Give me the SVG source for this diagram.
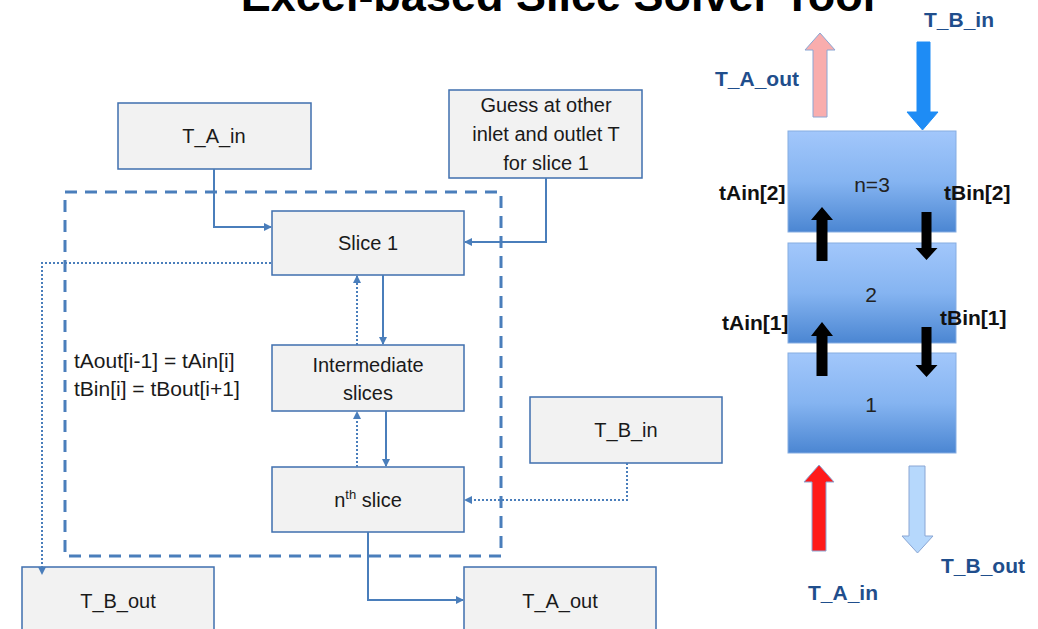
<svg xmlns="http://www.w3.org/2000/svg" width="1038" height="629" viewBox="0 0 1038 629">
<defs>
<style>
.box{fill:#f2f2f2;stroke:#3f6fae;stroke-width:1.5}
.t{font-family:"Liberation Sans",Arial,sans-serif;font-size:20px;fill:#1a1a1a;text-anchor:middle}
.eq{font-family:"Liberation Sans",Arial,sans-serif;font-size:21px;fill:#1a1a1a}
.lb{font-family:"Liberation Sans",Arial,sans-serif;font-size:21px;font-weight:bold;fill:#1f4e8c}
.bk{font-family:"Liberation Sans",Arial,sans-serif;font-size:21px;font-weight:bold;fill:#111}
.num{font-family:"Liberation Sans",Arial,sans-serif;font-size:21px;fill:#222;text-anchor:middle}
.sl{stroke:#4a7ebb;stroke-width:2;fill:none}
.dt{stroke:#4a7ebb;stroke-width:2;fill:none;stroke-dasharray:2 2}
.slice{fill:url(#g);stroke:#86ade2;stroke-width:1}
</style>
<linearGradient id="g" x1="0" y1="0" x2="0" y2="1">
<stop offset="0" stop-color="#a2c7fb"/>
<stop offset="0.5" stop-color="#85b4f1"/>
<stop offset="1" stop-color="#4b86d2"/>
</linearGradient>
<marker id="ah" markerWidth="8" markerHeight="8" refX="7" refY="4" orient="auto" markerUnits="userSpaceOnUse">
<path d="M0,0 L8,4 L0,8 Z" fill="#4a7ebb"/>
</marker>
</defs>
<rect width="1038" height="629" fill="#fff"/>
<text x="558" y="11" style="font-family:'Liberation Sans',Arial,sans-serif;font-size:45px;font-weight:bold;fill:#000" text-anchor="middle">Excel-based Slice Solver Tool</text>

<rect x="65" y="192" width="436" height="364" fill="none" stroke="#4a7ebb" stroke-width="3" stroke-dasharray="12 8"/>

<g id="n_tain"><rect class="box" x="118" y="103" width="193" height="66"/><text class="t" x="214" y="143">T_A_in</text></g>
<g id="n_guess"><rect class="box" x="449" y="90" width="193" height="88"/>
<text class="t" x="546" y="112">Guess at other</text><text class="t" x="546" y="141">inlet and outlet T</text><text class="t" x="546" y="170">for slice 1</text></g>
<g id="n_slice1"><rect class="box" x="272" y="211" width="192" height="64"/><text class="t" x="368" y="250">Slice 1</text></g>
<g id="n_inter"><rect class="box" x="272" y="345" width="192" height="66"/><text class="t" x="368" y="372">Intermediate</text><text class="t" x="368" y="400">slices</text></g>
<g id="n_nth"><rect class="box" x="272" y="467" width="192" height="65"/><text class="t" x="368" y="507">n<tspan font-size="13" dy="-8">th</tspan><tspan dy="8"> slice</tspan></text></g>
<g id="n_tbin"><rect class="box" x="530" y="397" width="192" height="66"/><text class="t" x="626" y="437">T_B_in</text></g>
<g id="n_tbout"><rect class="box" x="22" y="567" width="192" height="70"/><text class="t" x="118" y="608">T_B_out</text></g>
<g id="n_taout"><rect class="box" x="464" y="567" width="192" height="70"/><text class="t" x="560" y="608">T_A_out</text></g>

<g id="connectors">
<path class="sl" d="M214,169 V227 H271" marker-end="url(#ah)"/>
<path class="sl" d="M546,178 V242 H465" marker-end="url(#ah)"/>
<path class="sl" d="M383,275 V344" marker-end="url(#ah)"/>
<path class="dt" d="M357,345 V276" marker-end="url(#ah)"/>
<path class="sl" d="M386,411 V466" marker-end="url(#ah)"/>
<path class="dt" d="M357,467 V412" marker-end="url(#ah)"/>
<path class="sl" d="M368,532 V600 H463" marker-end="url(#ah)"/>
<path class="dt" d="M627,463 V500 H465" marker-end="url(#ah)"/>
<path class="dt" d="M271,263 H42 V574" marker-end="url(#ah)"/>
</g>

<g id="eq"><text class="eq" x="74" y="368">tAout[i-1] = tAin[i]</text><text class="eq" x="74" y="396">tBin[i] = tBout[i+1]</text></g>

<g id="slices">
<rect class="slice" x="788" y="131" width="168" height="101"/>
<rect class="slice" x="788" y="243" width="168" height="100"/>
<rect class="slice" x="788" y="353" width="168" height="100"/>
<text class="num" x="872" y="192">n=3</text>
<text class="num" x="871" y="302">2</text>
<text class="num" x="871" y="412">1</text>
</g>

<g id="black_arrows" fill="#000">
<path d="M816.5,261 V220 H811 L822,207 L833,220 H827.5 V261 Z"/>
<path d="M921.5,212 V248 H915.5 L926.5,260 L937.5,248 H931.5 V212 Z"/>
<path d="M816.5,376 V336 H811 L822,322 L833,336 H827.5 V376 Z"/>
<path d="M921.5,327 V365 H915.5 L926.5,377 L937.5,365 H931.5 V327 Z"/>
</g>

<g id="flow_arrows" stroke="#8aa6d4" stroke-width="1">
<path d="M813,117 V50 H805 L820,33 L835,50 H827 V117 Z" fill="#f9adad"/>
<path d="M917,42 V112 H907 L922.5,130 L938,112 H930 V42 Z" fill="#1e8cf5" stroke="#1e8cf5"/>
<path d="M812,551 V482 H804 L819,465 L834,482 H826 V551 Z" fill="#ff1a1a"/>
<path d="M909,466 V536 H902 L917.5,553 L933,536 H925 V466 Z" fill="#b6d8fc"/>
</g>

<g id="labels">
<text class="lb" x="715" y="86">T_A_out</text>
<text class="lb" x="924" y="27">T_B_in</text>
<text class="lb" x="808" y="600">T_A_in</text>
<text class="lb" x="941" y="573">T_B_out</text>
<text class="bk" x="719" y="200">tAin[2]</text>
<text class="bk" x="944" y="200">tBin[2]</text>
<text class="bk" x="722" y="330">tAin[1]</text>
<text class="bk" x="940" y="325">tBin[1]</text>
</g>
</svg>
